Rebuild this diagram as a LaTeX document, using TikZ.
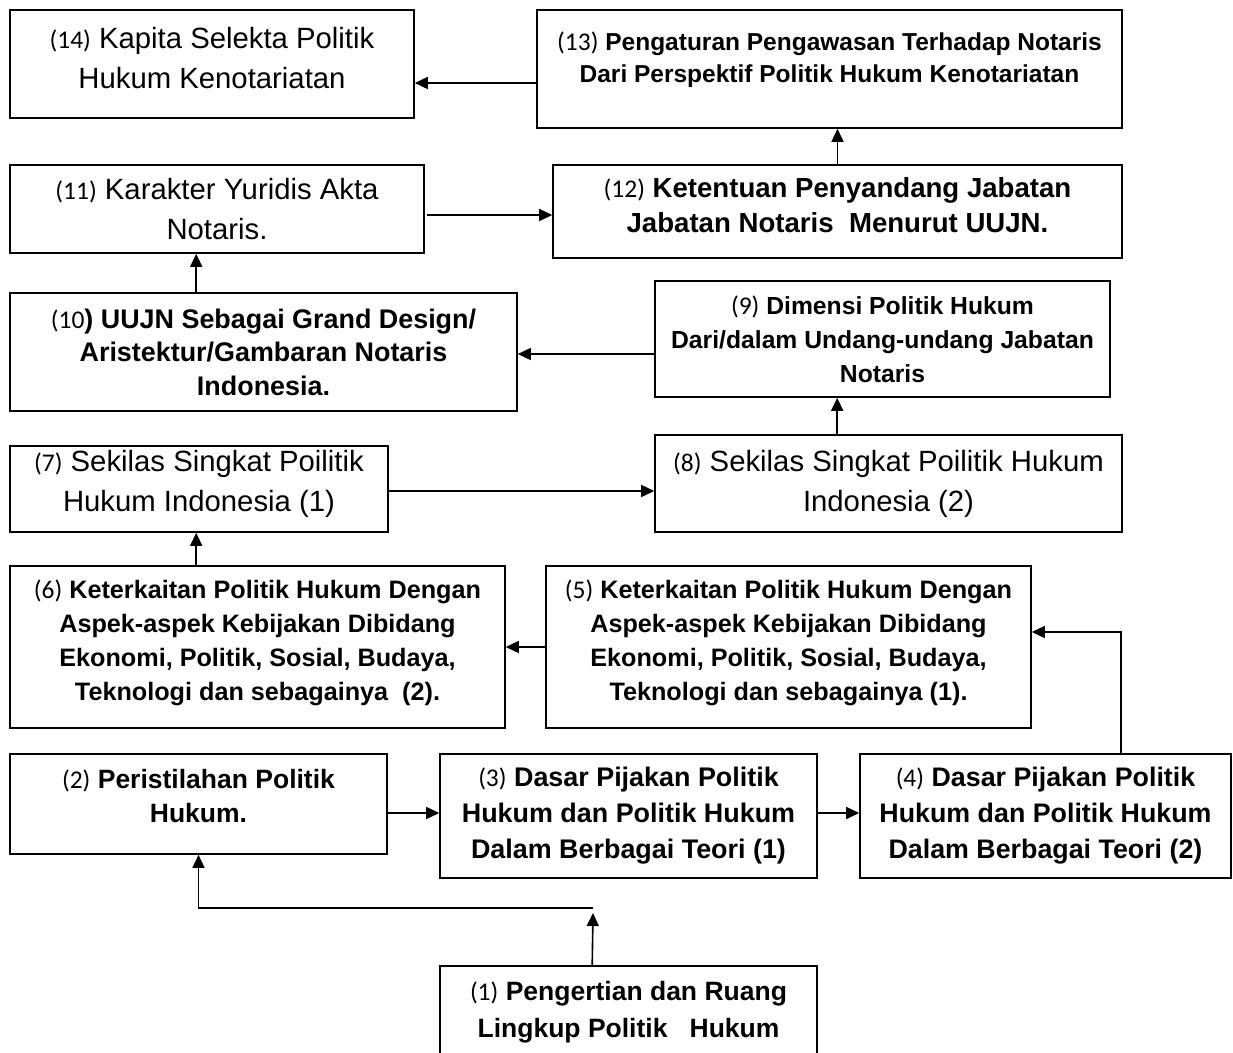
\documentclass[tikz,border=0pt]{standalone}
\usepackage{fontspec}
\setmainfont{Liberation Sans}
\newfontfamily\numfont{Carlito}
\usetikzlibrary{arrows.meta}

\newcommand{\nrfont}{\numfont\mdseries\fontsize{25.5}{25.5}\selectfont}
\newcommand{\nr}[1]{{\nrfont(#1)}}
\newcommand{\lift}[1]{\rule[-#1pt]{0pt}{#1pt}}

\tikzset{
	box/.style={draw, line width=1.6pt, inner sep=0pt, align=center},
	plain/.style={font=\fontsize{29.3}{40}\selectfont},
	heavy/.style n args={2}{font=\bfseries\fontsize{#1}{#2}\selectfont},
	arr/.style={line width=1.6pt, -{Triangle[length=13pt,width=12pt]}},
}

\begin{document}
\begin{tikzpicture}[x=1pt, y=-1pt]
				\useasboundingbox (0,0) rectangle (1233,1052);

				% top rows
				\node[box, plain, minimum width=404pt, minimum height=108pt] (b14) at (212,64)
					{\nr{14} Kapita Selekta Politik\\Hukum Kenotariatan\lift{12}};
				\node[box, heavy={24.5}{32}, minimum width=585pt, minimum height=118pt] (b13) at (829.5,69)
					{\nr{13} Pengaturan Pengawasan Terhadap Notaris\\Dari Perspektif Politik Hukum Kenotariatan\lift{23}};
				\node[box, plain, minimum width=414pt, minimum height=88pt] (b11) at (217,209)
					{\nr{11} Karakter Yuridis Akta\\Notaris.};
				\node[box, heavy={27.6}{35}, minimum width=569pt, minimum height=93pt] (b12) at (837.5,211.5)
					{\nr{12} Ketentuan Penyandang Jabatan\\Jabatan Notaris\ \ Menurut UUJN.\lift{14}};
				\node[box, heavy={26.9}{33.5}, minimum width=507pt, minimum height=118pt] (b10) at (263.5,352)
					{{\nrfont(10}) UUJN Sebagai Grand Design/\\Aristektur/Gambaran Notaris\\Indonesia.};
				\node[box, heavy={24.7}{34}, minimum width=455pt, minimum height=116pt] (b9) at (882.5,339)
					{\nr{9} Dimensi Politik Hukum\\Dari/dalam Undang-undang Jabatan\\Notaris};

				% middle rows
				\node[box, plain, minimum width=378pt, minimum height=86pt] (b7) at (199,489)
					{\nr{7} Sekilas Singkat Poilitik\\Hukum Indonesia (1)\lift{16}};
				\node[box, plain, minimum width=467pt, minimum height=97pt] (b8) at (888.5,483.5)
					{\nr{8} Sekilas Singkat Poilitik Hukum\\Indonesia (2)\lift{4}};
				\node[box, heavy={25.2}{34}, minimum width=495pt, minimum height=162pt] (b6) at (257.5,647)
					{\nr{6} Keterkaitan Politik Hukum Dengan\\Aspek-aspek Kebijakan Dibidang\\Ekonomi, Politik, Sosial, Budaya,\\Teknologi dan sebagainya\ \ (2).\lift{13}};
				\node[box, heavy={25.2}{34}, minimum width=485pt, minimum height=162pt] (b5) at (788.5,647)
					{\nr{5} Keterkaitan Politik Hukum Dengan\\Aspek-aspek Kebijakan Dibidang\\Ekonomi, Politik, Sosial, Budaya,\\Teknologi dan sebagainya (1).\lift{13}};

				% bottom rows
				\node[box, heavy={26.5}{34}, minimum width=377pt, minimum height=100pt] (b2) at (198.5,804)
					{\nr{2} Peristilahan Politik\\Hukum.\lift{16}};
				\node[box, heavy={26.9}{36}, minimum width=377pt, minimum height=124pt] (b3) at (628.5,816)
					{\nr{3} Dasar Pijakan Politik\\Hukum dan Politik Hukum\\Dalam Berbagai Teori (1)};
				\node[box, heavy={26.8}{36}, minimum width=371pt, minimum height=124pt] (b4) at (1045.5,816)
					{\nr{4} Dasar Pijakan Politik\\Hukum dan Politik Hukum\\Dalam Berbagai Teori (2)};
				\node[box, heavy={26.5}{37}, minimum width=377pt, minimum height=92pt] (b1) at (628.5,1012)
					{\nr{1} Pengertian dan Ruang\\Lingkup Politik\ \ \ Hukum};

				\coordinate (j) at (593,908);

				% connectors
				\draw[arr] ([xshift=153pt]b1.north west) -- ([yshift=-5pt]j);
				\draw[arr] (j) -| (b2.south);
				\draw[arr] ([yshift=-9pt]b2.east) -- ([yshift=-9pt]b2.east -| b3.west);
				\draw[arr] ([yshift=3pt]b3.east) -- ([yshift=3pt]b3.east -| b4.west);
				\draw[arr] ([xshift=262pt]b4.north west) |- ([yshift=15pt]b5.east);
				\draw[arr] (b5.west) -- (b6.east);
				\draw[arr] ([xshift=187pt]b6.north west) -- ([xshift=187pt]b6.north west |- b7.south);
				\draw[arr] ([yshift=-2pt]b7.east) -- ([yshift=-2pt]b7.east -| b8.west);
				\draw[arr] ([xshift=183pt]b8.north west) -- ([xshift=183pt]b8.north west |- b9.south);
				\draw[arr] ([yshift=-15pt]b9.west) -- ([yshift=-15pt]b9.west -| b10.east);
				\draw[arr] ([xshift=187pt]b10.north west) -- ([xshift=187pt]b10.north west |- b11.south);
				\draw[arr] ([xshift=2pt,yshift=-6pt]b11.east) -- ([yshift=-6pt]b11.east -| b12.west);
				\draw[arr] (b12.north) -- (b12.north |- b13.south);
				\draw[arr] ([yshift=-14pt]b13.west) -- ([yshift=-14pt]b13.west -| b14.east);
\end{tikzpicture}
\end{document}
